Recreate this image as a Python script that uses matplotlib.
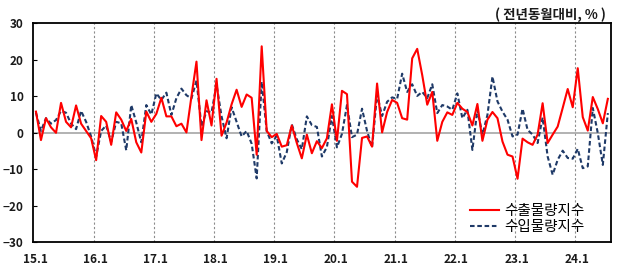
import matplotlib
matplotlib.use("Agg")
import matplotlib.pyplot as plt
import numpy as np

plt.rcParams['font.family'] = ['Noto Sans CJK KR', 'DejaVu Sans']

# monthly, 2015.1 ~ 2024.7, y-o-y %
export_volume = [
    5.8, -2, 4, 1.5, 0, 8.2, 3, 1.5, 7.5, 2.5, 0.5, -1.5,
    -7.5, 4.6, 3, -3.3, 5.6, 3.6, 0.5, 3.8, -2.6, -5.4, 5.8, 3,
    5.2, 9.6, 4.5, 4.5, 1.8, 2.5, 0.1, 10, 19.5, -2, 8.9, 2,
    14.8, -0.8, 2.8, 7.8, 11.8, 7.1, 10.5, 9.6, -6, 23.7, 0.5, -1.2,
    -0.3, -3.8, -3.4, 2, -2.8, -7, -0.5, -5.6, -2.3, -4.2, -1.5, 7.8,
    -2.2, 11.5, 10.6, -13.4, -14.8, -1.4, -1, -3.8, 13.5, 0.1, 5.7, 9,
    8.2, 4, 3.6, 20.4, 23, 15.8, 7.7, 11.2, -2.2, 3, 5.6, 4.9,
    8.2, 6.6, 5.7, 2, 7.9, -2.2, 3.6, 5.7, 4, -2.4, -6, -6.5,
    -12.6, -1.6, -2.6, -3.3, -0.5, 8.1, -2.8, -0.5, 1.7, 6.8, 12, 7,
    17.7, 4.3, 0.6, 9.8, 6.5, 2.6, 9.3,
]
import_volume = [
    5.5, 0.5, 4, 2.5, 3.5, 6, 5.5, 2.5, 1, 6, 3, -1,
    -6.5, 0.5, 2, -2.5, 3, 2.6, -4.8, 7.6, 2.8, -2.6, 7.6, 5,
    10.8, 9, 11, 4.9, 9.5, 12.1, 10.3, 9.4, 14.3, 1.8, 5.9, 5.6,
    13.2, 4.5, -1.5, 7, 3, -1, 0.5, -3, -12.5, 14, 0.5, -2.9,
    -0.8, -8.4, -5.3, 2.3, -1.8, -4.5, 4.5, 2.1, 1.6, -6.5, -3.9, 4.6,
    -4, -0.3, 7.6, -1.2, -0.5, 6.6, 0.5, -4, 10.5, 4.6, 8.5, 9.7,
    9.3, 16.2, 11.2, 13.3, 10.1, 11.2, 9.5, 13.3, 5.4, 7.6, 7.2, 6.3,
    10.8, 4, 6.3, -4.7, 6.3, -0.5, 4.9, 15.4, 8.6, 5.8, 3.6, -1,
    -0.5, 6.6, 0.8, -0.5, -2.8, 4.2, -6.5, -11.5, -7.4, -4.9, -6.9, -7.1,
    -4.4, -9.7, -9.2, 6.8, -0.1, -8.8, 5.4,
]
year_labels = ['15.1', '16.1', '17.1', '18.1', '19.1', '20.1', '21.1', '22.1', '23.1', '24.1']

months = np.arange(len(export_volume))

fig = plt.figure(figsize=(6.43, 2.68), dpi=100)
ax = fig.add_axes([0.052, 0.096, 0.898, 0.817])

# year separators and zero line
for k in range(1, len(year_labels)):
    ax.axvline(12 * k - 0.5, color='#8c8c8c', lw=0.8, ls=(0, (2, 2)), zorder=1)
ax.axhline(0, color='#a6a6a6', lw=1.2, zorder=1)

ax.plot(months, export_volume, color='#ff0000', lw=1.5, label='수출물량지수', zorder=3)
ax.plot(months, import_volume, color='#1f3a68', lw=1.5, ls=(0, (2.2, 1.3)),
        label='수입물량지수', zorder=2)

ax.set_xlim(-0.5, len(export_volume) - 0.4)
ax.set_ylim(-30, 30)
ax.set_yticks(np.arange(-30, 31, 10))
ax.set_xticks(np.arange(len(year_labels)) * 12 - 0.2)
ax.set_xticklabels(year_labels)

ax.tick_params(axis='y', direction='in', length=3, width=0.8, pad=7)
ax.tick_params(axis='x', length=0, pad=8)
for lab in ax.get_xticklabels() + ax.get_yticklabels():
    lab.set_fontweight('bold')
    lab.set_fontsize(8.5)
    lab.set_color('#1a1a1a')

for sp in ax.spines.values():
    sp.set_linewidth(1.3)
    sp.set_color('black')

ax.legend(loc='lower right', frameon=False, fontsize=10.5, handlelength=2.0,
          handletextpad=0.35, labelspacing=0.15, borderaxespad=0,
          bbox_to_anchor=(0.965, 0.01))

fig.text(0.942, 0.945, '( 전년동월대비, % )', ha='right', va='center',
         fontsize=9.7, fontweight='bold', color='#1a1a1a')

fig.savefig('out.png', dpi=100)
